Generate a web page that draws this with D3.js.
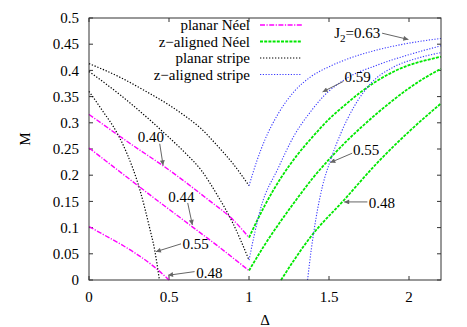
<!DOCTYPE html>
<html>
<head>
<meta charset="utf-8">
<script src="https://cdn.jsdelivr.net/npm/d3@7"></script>
<style>
  body { margin: 0; background: #fff; }
  svg text { font-family: 'Liberation Serif', 'Times New Roman', Times, serif; font-size: 15px; fill: #000; }
</style>
</head>
<body>
<script>
// svg params
const svgW = 467;
const svgH = 327;
const margin = { left: 89, right: 26, top: 18, bottom: 47 };

// planar Neel (magenta), J2 = 0.40 / 0.44 / 0.48
const planarNeel040 = [[0,0.316],[0.25,0.262],[0.5,0.21],[0.75,0.152],[0.9,0.115],[1,0.081]];
const planarNeel044 = [[0,0.252],[0.2,0.205],[0.4,0.158],[0.6,0.112],[0.8,0.066],[1,0.018]];
const planarNeel048 = [[0,0.102],[0.1,0.085],[0.2,0.068],[0.3,0.049],[0.4,0.027],[0.5,0]];

// z-aligned Neel (green)
const zNeel040 = [[1,0.081],[1.1,0.143],[1.2,0.195],[1.3,0.238],[1.4,0.274],[1.5,0.307],[1.6,0.334],[1.7,0.359],[1.8,0.38],[1.9,0.397],[2.0,0.41],[2.1,0.419],[2.2,0.426]];
const zNeel044 = [[1,0.018],[1.1,0.068],[1.2,0.113],[1.3,0.155],[1.4,0.195],[1.5,0.23],[1.6,0.262],[1.7,0.291],[1.8,0.318],[1.9,0.343],[2.0,0.366],[2.1,0.386],[2.2,0.403]];
const zNeel048 = [[1.2,0],[1.387,0.083],[1.595,0.153],[1.8,0.223],[2.01,0.286],[2.2,0.337]];

// planar stripe (black), J2 = 0.63 / 0.59 / 0.55
const planarStripe063 = [[0,0.413],[0.2,0.386],[0.35,0.361],[0.5,0.334],[0.6,0.313],[0.7,0.289],[0.8,0.257],[0.9,0.222],[1,0.18]];
const planarStripe059 = [[0,0.398],[0.2,0.352],[0.4,0.3],[0.5,0.272],[0.6,0.243],[0.7,0.21],[0.8,0.163],[0.9,0.108],[1,0.038]];
const planarStripe055 = [[0,0.36],[0.08,0.325],[0.18,0.278],[0.235,0.243],[0.318,0.172],[0.38,0.098],[0.41,0.058],[0.44,0]];

// z-aligned stripe (blue)
const zStripe063 = [[1,0.18],[1.05,0.228],[1.1,0.268],[1.18,0.316],[1.283,0.36],[1.387,0.388],[1.5,0.407],[1.6,0.42],[1.8,0.439],[2.0,0.452],[2.2,0.461]];
const zStripe059 = [[1,0.038],[1.076,0.14],[1.18,0.212],[1.283,0.276],[1.387,0.322],[1.47,0.352],[1.6,0.383],[1.8,0.41],[2.0,0.43],[2.2,0.447]];
const zStripe055 = [[1.366,0],[1.39,0.06],[1.42,0.12],[1.46,0.18],[1.505,0.225],[1.574,0.28],[1.657,0.331],[1.761,0.375],[1.907,0.407],[2.05,0.423],[2.2,0.434]];

const xTicks = [0, 0.5, 1, 1.5, 2];
const yTicks = [0, 0.05, 0.1, 0.15, 0.2, 0.25, 0.3, 0.35, 0.4, 0.45, 0.5];

// J2 labels: text anchor + arrow (from, to), in data units
const labels = [
	{ text: '0.40', at: [0.386, 0.273], anchor: 'middle', from: [0.442, 0.26], to: [0.463, 0.219] },
	{ text: '0.44', at: [0.578, 0.159], anchor: 'middle', from: [0.617, 0.147], to: [0.646, 0.105] },
	{ text: '0.55', at: [0.585, 0.069], anchor: 'start', from: [0.575, 0.069], to: [0.418, 0.054] },
	{ text: '0.48', at: [0.67, 0.014], anchor: 'start', from: [0.66, 0.016], to: [0.494, 0.009] },
	{ text: '0.59', at: [1.597, 0.388], anchor: 'start', from: [1.59, 0.379], to: [1.46, 0.359] },
	{ text: '0.55', at: [1.65, 0.248], anchor: 'start', from: [1.645, 0.242], to: [1.508, 0.224] },
	{ text: '0.48', at: [1.748, 0.148], anchor: 'start', from: [1.74, 0.149], to: [1.595, 0.149] },
	{ text: '0.63', j2: true, at: [1.533, 0.471], anchor: 'start', from: [1.832, 0.471], to: [1.996, 0.459] }
];

const styles = {
	planarNeel: { color: '#ff00ff', width: 1.4, dash: '5,1.5,1.2,1.5' },
	zNeel: { color: '#00e800', width: 1.8, dash: '3,1.2' },
	planarStripe: { color: '#000000', width: 1.2, dash: '1.3,1.7' },
	zStripe: { color: '#3a3aff', width: 1.1, dash: '1.2,1.6' }
};

const series = [
	{ key: 'planarNeel', label: 'planar Néel', curves: [planarNeel040, planarNeel044, planarNeel048] },
	{ key: 'zNeel', label: 'z−aligned Néel', curves: [zNeel040, zNeel044, zNeel048] },
	{ key: 'planarStripe', label: 'planar stripe', curves: [planarStripe063, planarStripe059, planarStripe055] },
	{ key: 'zStripe', label: 'z−aligned stripe', curves: [zStripe063, zStripe059, zStripe055] }
];

const svg = d3.select('body').append('svg').attr('width', svgW).attr('height', svgH);

const x = d3.scaleLinear().domain([0, 2.2]).range([margin.left, svgW - margin.right]);
const y = d3.scaleLinear().domain([0, 0.5]).range([svgH - margin.bottom, margin.top]);
const x0 = x.range()[0], x1 = x.range()[1], y0 = y.range()[0], y1 = y.range()[1];

svg.append('defs').append('marker')
	.attr('id', 'head')
	.attr('viewBox', '0 0 10 10')
	.attr('refX', 10).attr('refY', 5)
	.attr('markerWidth', 7).attr('markerHeight', 5)
	.attr('markerUnits', 'userSpaceOnUse')
	.attr('orient', 'auto')
	.append('path').attr('d', 'M0,0L10,5L0,10z').attr('fill', '#666');

/*
	axes: inward ticks, mirrored
*/
const tl = 4;
const frame = svg.append('g').attr('stroke', '#333').attr('stroke-width', 1);
yTicks.forEach((t) => {
	frame.append('line').attr('x1', x0).attr('x2', x0 + tl).attr('y1', y(t)).attr('y2', y(t));
	frame.append('line').attr('x1', x1).attr('x2', x1 - tl).attr('y1', y(t)).attr('y2', y(t));
	svg.append('text').attr('x', x0 - 10).attr('y', y(t)).attr('dy', '0.35em')
		.attr('text-anchor', 'end').text(t);
});
xTicks.forEach((t) => {
	frame.append('line').attr('x1', x(t)).attr('x2', x(t)).attr('y1', y0).attr('y2', y0 - tl);
	frame.append('line').attr('x1', x(t)).attr('x2', x(t)).attr('y1', y1).attr('y2', y1 + tl);
	svg.append('text').attr('x', x(t)).attr('y', y0 + 17).attr('dy', '0.35em')
		.attr('text-anchor', 'middle').text(t);
});

svg.append('text').attr('transform', 'translate(25,' + ((y0 + y1) / 2 - 10) + ') rotate(-90)')
	.attr('text-anchor', 'middle').attr('dy', '0.35em').text('M');
svg.append('text').attr('x', (x0 + x1) / 2).attr('y', 320).attr('dy', '0.35em')
	.attr('text-anchor', 'middle').text('Δ');

/*
	curves
*/
const line = d3.line().x((d) => x(d[0])).y((d) => y(d[1])).curve(d3.curveMonotoneX);
const plot = svg.append('g');
series.forEach((s) => {
	const st = styles[s.key];
	s.curves.forEach((c) => {
		plot.append('path').datum(c).attr('d', line)
			.attr('fill', 'none').attr('stroke', st.color)
			.attr('stroke-width', st.width).attr('stroke-dasharray', st.dash);
	});
});

/*
	legend
*/
series.forEach((s, i) => {
	const st = styles[s.key];
	const ly = 25 + i * 16.5;
	svg.append('text').attr('x', 250).attr('y', ly).attr('dy', '0.35em')
		.attr('text-anchor', 'end').text(s.label);
	svg.append('line').attr('x1', 260).attr('x2', 302).attr('y1', ly).attr('y2', ly)
		.attr('stroke', st.color).attr('stroke-width', st.width).attr('stroke-dasharray', st.dash);
});

/*
	J2 labels with arrows
*/
labels.forEach((l) => {
	svg.append('line')
		.attr('x1', x(l.from[0])).attr('y1', y(l.from[1]))
		.attr('x2', x(l.to[0])).attr('y2', y(l.to[1]))
		.attr('stroke', '#666').attr('stroke-width', 1)
		.attr('marker-end', 'url(#head)');
	const t = svg.append('text').attr('x', x(l.at[0])).attr('y', y(l.at[1])).attr('dy', '0.35em')
		.attr('text-anchor', l.anchor);
	if (l.j2) {
		t.append('tspan').text('J');
		t.append('tspan').attr('dy', '4').attr('font-size', '11px').text('2');
		t.append('tspan').attr('dy', '-4').text('=' + l.text);
	} else {
		t.text(l.text);
	}
});

// frame on top
svg.append('rect').attr('x', x0).attr('y', y1).attr('width', x1 - x0).attr('height', y0 - y1)
	.attr('fill', 'none').attr('stroke', '#333').attr('stroke-width', 1);
</script>
</body>
</html>
